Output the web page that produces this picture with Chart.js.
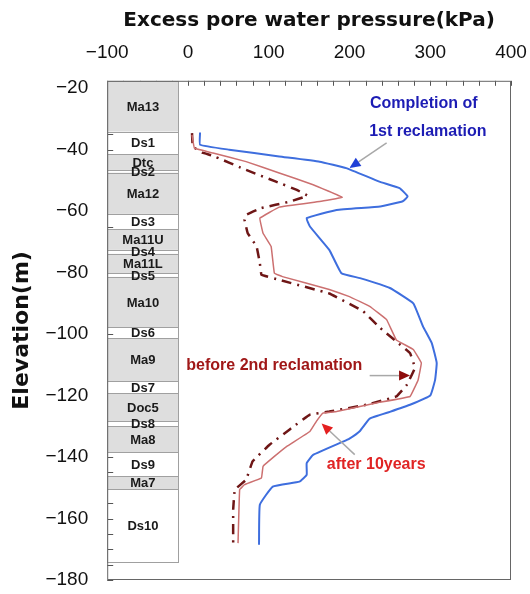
<!DOCTYPE html>
<html>
<head>
<meta charset="utf-8">
<script src="https://cdn.jsdelivr.net/npm/chart.js@4.4.1/dist/chart.umd.min.js"></script>
<style>
  body { margin: 0; background: #fff; }
  #wrap { width: 530px; height: 594px; }
</style>
</head>
<body>
<div id="wrap"><canvas id="poreChart"></canvas></div>
<script>
// Completion of 1st reclamation (blue)
const completionKpa = [15, 15, 51, 113, 163, 196, 237, 262, 272, 266, 238, 184, 147, 151, 175, 190, 213, 250, 279, 291, 302, 308, 306, 300, 275, 250, 225, 213, 200, 192, 155, 147, 147, 138, 105, 89, 88];
const completionElev = [-34.4, -38.4, -40, -42.2, -43.9, -46, -50.4, -52.5, -55.2, -56.8, -58.5, -59.6, -62.3, -65, -72.6, -80.2, -81.8, -85, -90, -97.5, -103, -109.4, -114.9, -120, -123, -125.3, -127.5, -131.5, -134, -135, -139.3, -142, -145.8, -148, -149.6, -155.5, -168.5];

// before 2nd reclamation (dark red, dash-dot)
const beforeKpa = [5, 6, 18, 31, 72, 109, 134, 148, 126, 91, 72, 70, 74, 85, 89, 91, 115, 175, 217, 238, 258, 275, 281, 271, 258, 221, 175, 151, 126, 101, 80, 72, 58, 56, 56];
const beforeElev = [-34.6, -39, -41, -42, -46.6, -50.4, -53, -55, -56.9, -59, -61.2, -62.8, -67.2, -71.5, -76.9, -80.7, -82.5, -86.8, -92.6, -98, -102.4, -106.2, -111, -116.5, -120.3, -123, -125.2, -126.2, -131, -136, -141.4, -147.4, -150.6, -157, -168];

// after 10years (light red)
const afterKpa = [5, 8, 31, 72, 113, 155, 191, 163, 113, 89, 93, 103, 107, 117, 175, 200, 225, 246, 258, 279, 289, 285, 275, 233, 184, 167, 159, 151, 122, 107, 93, 91, 70, 64, 62];
const afterElev = [-35.2, -39.5, -41.1, -43.9, -47.6, -51.4, -55.5, -56.9, -58.7, -62.3, -67.2, -71.5, -80.2, -81.3, -85.5, -87.8, -91, -95.3, -101.9, -105, -109.4, -114.9, -120.3, -122.4, -125.2, -125.7, -128.4, -131.7, -136.6, -139.8, -143, -146.8, -149, -150.6, -168];

// Axis ticks
const xTicks = [-100, 0, 100, 200, 300, 400];
const yTicks = [-20, -40, -60, -80, -100, -120, -140, -160, -180];

// Soil column (elevation of top / bottom of each layer)
const layerNames = ['Ma13', 'Ds1', 'Dtc', 'Ds2', 'Ma12', 'Ds3', 'Ma11U', 'Ds4', 'Ma11L', 'Ds5', 'Ma10', 'Ds6', 'Ma9', 'Ds7', 'Doc5', 'Ds8', 'Ma8', 'Ds9', 'Ma7', 'Ds10'];
const layerTops = [-17.6, -34.1, -41.5, -46.6, -47.5, -60.9, -65.8, -72.6, -73.9, -80.2, -81.4, -97.7, -101.3, -115.4, -119.2, -128.4, -130.0, -138.4, -146.3, -150.4];
const layerBottoms = [-34.1, -41.5, -46.6, -47.5, -60.9, -65.8, -72.6, -73.9, -80.2, -81.4, -97.7, -101.3, -115.4, -119.2, -128.4, -130.0, -138.4, -146.3, -150.4, -174.0];
const columnLeft = -100;
const columnRight = -11.5;

// Notes: text lines with anchor (kPa, elevation)
const noteTexts = ['Completion of', '1st reclamation', 'before 2nd reclamation', 'after 10years'];
const noteKpa = [292, 297, -2, 172];
const noteElev = [-25.1, -34.2, -110.2, -142.5];
const noteAlign = ['center', 'center', 'left', 'left'];
const noteColors = ['#1c1cb4', '#1c1cb4', '#a01818', '#e02424'];

// Arrows: from (kPa, elev) to tip (kPa, elev)
const arrowFromKpa = [246, 225, 206.5];
const arrowFromElev = [-37.8, -113.5, -139.2];
const arrowToKpa = [200, 275, 165.5];
const arrowToElev = [-46, -113.5, -129.1];
const arrowColors = ['#1f3fd6', '#8e0c0c', '#e42020'];

function toPoints(xs, ys) {
    return xs.map((v, i) => ({ x: v, y: ys[i] }));
}

// Draws tick marks, the soil column and the frame
const columnPlugin = {
    id: 'column',
    beforeDatasetsDraw(chart) {
        const { ctx, chartArea: a, scales: { x, y } } = chart;
        ctx.save();

        // small inside ticks
        ctx.strokeStyle = '#555';
        ctx.lineWidth = 1;
        ctx.beginPath();
        for (let v = -100; v <= 400; v += 20) {
            const px = Math.round(x.getPixelForValue(v)) + 0.5;
            ctx.moveTo(px, a.top);
            ctx.lineTo(px, a.top + 5);
        }
        for (let v = -20; v >= -180; v -= 5) {
            const py = Math.round(y.getPixelForValue(v)) + 0.5;
            ctx.moveTo(a.left, py);
            ctx.lineTo(a.left + 6, py);
        }
        ctx.stroke();

        // soil layers
        const left = x.getPixelForValue(columnLeft);
        const right = x.getPixelForValue(columnRight);
        layerNames.forEach((name, i) => {
            const top = y.getPixelForValue(layerTops[i]);
            const bottom = y.getPixelForValue(layerBottoms[i]);
            if (!name.startsWith('Ds')) {
                ctx.fillStyle = '#dedede';
                ctx.fillRect(left, top, right - left, bottom - top);
            }
            ctx.strokeStyle = '#a0a0a0';
            ctx.strokeRect(Math.round(left) + 0.5, Math.round(top) + 0.5, Math.round(right - left), Math.round(bottom - top));
        });
        ctx.fillStyle = '#1a1a1a';
        ctx.font = 'bold 13px "Liberation Sans Narrow", "Liberation Sans", Arial, sans-serif';
        ctx.textAlign = 'center';
        ctx.textBaseline = 'middle';
        layerNames.forEach((name, i) => {
            const mid = (y.getPixelForValue(layerTops[i]) + y.getPixelForValue(layerBottoms[i])) / 2;
            ctx.fillText(name, (left + right) / 2, mid + 1);
        });

        // frame
        ctx.strokeStyle = '#666';
        ctx.strokeRect(a.left + 0.5, a.top + 0.5, a.width - 1, a.height - 1);
        ctx.restore();
    },
    afterDatasetsDraw(chart) {
        const { ctx, scales: { x, y } } = chart;
        ctx.save();
        // arrows
        arrowFromKpa.forEach((v, i) => {
            const x0 = x.getPixelForValue(v), y0 = y.getPixelForValue(arrowFromElev[i]);
            const x1 = x.getPixelForValue(arrowToKpa[i]), y1 = y.getPixelForValue(arrowToElev[i]);
            const ang = Math.atan2(y1 - y0, x1 - x0);
            const len = 11, half = 5;
            const bx = x1 - len * Math.cos(ang), by = y1 - len * Math.sin(ang);
            ctx.strokeStyle = '#a8a8a8';
            ctx.lineWidth = 1.5;
            ctx.beginPath();
            ctx.moveTo(x0, y0);
            ctx.lineTo(bx, by);
            ctx.stroke();
            ctx.fillStyle = arrowColors[i];
            ctx.beginPath();
            ctx.moveTo(x1, y1);
            ctx.lineTo(bx + half * Math.sin(ang), by - half * Math.cos(ang));
            ctx.lineTo(bx - half * Math.sin(ang), by + half * Math.cos(ang));
            ctx.closePath();
            ctx.fill();
        });
        // notes
        ctx.font = 'bold 16px "Liberation Sans", Arial, sans-serif';
        ctx.textBaseline = 'middle';
        noteTexts.forEach((t, i) => {
            ctx.fillStyle = noteColors[i];
            ctx.textAlign = noteAlign[i];
            ctx.fillText(t, x.getPixelForValue(noteKpa[i]), y.getPixelForValue(noteElev[i]));
        });
        ctx.restore();
    }
};

function fmtTick(v) {
    return String(v).replace('-', '\u2212');
}

function renderChart() {
    const ctx = document.getElementById('poreChart').getContext('2d');
    new Chart(ctx, {
        type: 'scatter',
        data: {
            datasets: [{
                label: 'Completion of 1st reclamation',
                data: toPoints(completionKpa, completionElev),
                showLine: true,
                borderColor: 'rgb(62, 110, 222)',
                borderWidth: 2,
                pointRadius: 0,
                tension: 0.1
            }, {
                label: 'after 10years',
                data: toPoints(afterKpa, afterElev),
                showLine: true,
                borderColor: 'rgb(204, 112, 112)',
                borderWidth: 1.5,
                pointRadius: 0,
                tension: 0.05
            }, {
                label: 'before 2nd reclamation',
                data: toPoints(beforeKpa, beforeElev),
                showLine: true,
                borderColor: 'rgb(110, 22, 22)',
                borderWidth: 2.5,
                borderDash: [10, 6, 2, 6],
                pointRadius: 0,
                tension: 0.05
            }]
        },
        options: {
            responsive: true,
            maintainAspectRatio: false,
            animation: false,
            layout: { padding: { left: 0, right: 19, top: 0, bottom: 14 } },
            plugins: { legend: { display: false }, tooltip: { enabled: false } },
            scales: {
                x: {
                    type: 'linear',
                    position: 'top',
                    min: -100,
                    max: 400,
                    afterBuildTicks: axis => { axis.ticks = xTicks.map(v => ({ value: v })); },
                    // tick marks hidden; tickLength only spaces the labels
                    grid: { display: false, drawTicks: true, tickLength: 17 },
                    border: { display: false },
                    ticks: {
                        padding: 0,
                        color: '#111',
                        font: { family: '"Liberation Sans", Arial, sans-serif', size: 19 },
                        callback: fmtTick
                    },
                    title: {
                        display: true,
                        text: 'Excess pore water pressure(kPa)',
                        color: '#111',
                        font: { family: '"DejaVu Sans", sans-serif', size: 20, weight: 'bold' },
                        padding: { top: 9, bottom: 8 }
                    }
                },
                y: {
                    type: 'linear',
                    min: -180,
                    max: -17.6,
                    afterBuildTicks: axis => { axis.ticks = yTicks.map(v => ({ value: v })); },
                    grid: { display: false, drawTicks: true, tickLength: 19 },
                    border: { display: false },
                    ticks: {
                        padding: 0,
                        color: '#111',
                        font: { family: '"Liberation Sans", Arial, sans-serif', size: 19 },
                        callback: fmtTick
                    },
                    title: {
                        display: true,
                        text: 'Elevation(m)',
                        color: '#111',
                        font: { family: '"DejaVu Sans", sans-serif', size: 22, weight: 'bold' },
                        padding: { top: 9, bottom: 10 }
                    }
                }
            }
        },
        plugins: [columnPlugin]
    });
}

renderChart();
</script>
</body>
</html>
